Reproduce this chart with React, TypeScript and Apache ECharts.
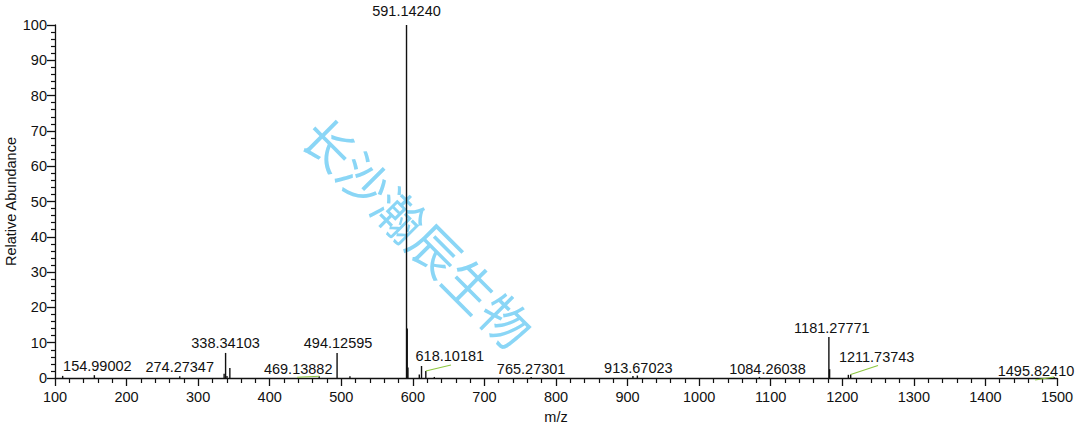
import React, { useEffect, useRef } from "react";
import * as echarts from "echarts";

// ---- Data ----
const peakMz = [
  110.7, 154.99002, 274.27347, 336.3, 338.34103, 340.3, 344.3, 469.13882, 494.12595, 512.1,
  591.1424, 592.146, 593.14, 609.0, 612.1, 618.10181, 630.0, 765.27301, 907.5, 913.67023,
  1084.26038, 1181.27771, 1182.28, 1208.5, 1211.73743, 1495.8241,
];
const peakIntensity = [
  0.6, 0.8, 0.5, 1.2, 7.1, 0.6, 2.8, 0.5, 7.1, 0.5,
  100, 14, 3, 1.0, 3.4, 2.0, 0.3, 0.3, 0.6, 0.7,
  0.3, 11.6, 2.5, 0.9, 1.0, 0.3,
];

const labeledMz = [
  154.99002, 274.27347, 338.34103, 469.13882, 494.12595, 591.1424, 618.10181,
  765.27301, 913.67023, 1084.26038, 1181.27771, 1211.73743, 1495.8241,
];
const labeledIntensity = [0.8, 0.5, 7.1, 0.5, 7.1, 100, 2.0, 0.3, 0.7, 0.3, 11.6, 1.0, 0.3];

const xTickMin = 100;
const xTickMax = 1500;
const xTickStep = 100;
const yTickMin = 0;
const yTickMax = 100;
const yTickStep = 10;

const xAxisTitle = "m/z";
const yAxisTitle = "Relative Abundance";
const watermarkText = "长沙瀚辰生物";

// ---- Layout config (label nudges in px: [dx, dy, leaderLine]) ----
const labelNudges: Array<[number, number, boolean]> = [
  [3, 0, false],
  [0, 0, false],
  [0, 0, false],
  [-21, 2, true],
  [1, 0, false],
  [0, -5, false],
  [24, -5, true],
  [0, 2, false],
  [1, 2, false],
  [8, 2, false],
  [3, 0, false],
  [26, -8, true],
  [-18, 4, true],
];

const FONT = "'Liberation Sans', Arial, Helvetica, sans-serif";
const INK = "#111";
const FS = 14.5;

export default function App() {
  const ref = useRef<HTMLDivElement | null>(null);

  useEffect(() => {
    if (!ref.current) return;
    const chart = echarts.init(ref.current, undefined, { renderer: "svg" });

    const peakData = peakMz.map((m, i) => [m, peakIntensity[i]]);
    const labelData = labeledMz.map((m, i) => [m, labeledIntensity[i]]);

    const option: any = {
      animation: false,
      backgroundColor: "#ffffff",
      grid: {
        left: 55,
        right: 24,
        top: 25,
        bottom: 50,
        containLabel: false,
        outerBoundsMode: "none",
      },
      xAxis: {
        type: "value",
        min: xTickMin,
        max: xTickMax,
        interval: xTickStep,
        axisLine: { show: true, onZero: false, lineStyle: { color: INK, width: 1.3 } },
        axisTick: { show: true, length: 8, lineStyle: { color: INK, width: 1.3 } },
        minorTick: { show: true, splitNumber: 5, length: 5, lineStyle: { color: INK, width: 1.2 } },
        splitLine: { show: false },
        minorSplitLine: { show: false },
        axisLabel: {
          fontSize: FS,
          color: INK,
          margin: 11,
          fontFamily: FONT,
          formatter: (v: number) => String(v),
        },
        name: xAxisTitle,
        nameLocation: "middle",
        nameGap: 31,
        nameMoveOverlap: false,
        nameTextStyle: { fontSize: FS, color: INK, fontFamily: FONT },
      },
      yAxis: {
        type: "value",
        min: yTickMin,
        max: yTickMax,
        interval: yTickStep,
        axisLine: { show: true, onZero: false, lineStyle: { color: INK, width: 1.3 } },
        axisTick: { show: true, length: 8, lineStyle: { color: INK, width: 1.3 } },
        minorTick: { show: true, splitNumber: 5, length: 4, lineStyle: { color: INK, width: 1.2 } },
        splitLine: { show: false },
        minorSplitLine: { show: false },
        axisLabel: {
          fontSize: FS,
          color: INK,
          margin: 8,
          fontFamily: FONT,
          formatter: (v: number) => String(v),
        },
        name: yAxisTitle,
        nameLocation: "middle",
        nameGap: 37,
        nameMoveOverlap: false,
        nameTextStyle: { fontSize: FS, color: INK, fontFamily: FONT },
      },
      graphic: [
        {
          type: "text",
          x: 419,
          y: 231,
          rotation: -Math.PI / 4,
          z: 0,
          silent: true,
          style: {
            text: watermarkText,
            fontSize: 50,
            fontFamily: "'Noto Sans CJK SC'",
            fontWeight: 400,
            fill: "#8ad6f6",
            align: "center",
            verticalAlign: "middle",
            textAlign: "center",
            textVerticalAlign: "middle",
          },
        },
      ],
      series: [
        {
          type: "custom",
          name: "peaks",
          z: 3,
          clip: false,
          data: peakData,
          renderItem: (params: any, api: any) => {
            const top = api.coord([api.value(0), api.value(1)]);
            const base = api.coord([api.value(0), 0]);
            return {
              type: "line",
              shape: { x1: top[0], y1: top[1], x2: base[0], y2: base[1] },
              style: { stroke: INK, lineWidth: 1.4 },
            };
          },
        },
        {
          type: "custom",
          name: "labels",
          z: 4,
          clip: false,
          data: labelData,
          renderItem: (params: any, api: any) => {
            const idx = params.dataIndex;
            const mz = api.value(0);
            const top = api.coord([mz, api.value(1)]);
            const nudge = labelNudges[idx] || [0, 0, false];
            const lx = top[0] + nudge[0];
            const ly = top[1] - 2 + nudge[1];
            const children: any[] = [
              {
                type: "text",
                style: {
                  text: Number(labeledMz[idx]).toFixed(5),
                  x: lx,
                  y: ly,
                  fontSize: FS,
                  fontFamily: FONT,
                  fill: INK,
                  align: "center",
                  verticalAlign: "bottom",
                  textAlign: "center",
                  textVerticalAlign: "bottom",
                },
              },
            ];
            if (nudge[2]) {
              children.unshift({
                type: "line",
                shape: { x1: lx + nudge[0] * 0.05, y1: ly + 1, x2: top[0], y2: top[1] },
                style: { stroke: "#8cc63f", lineWidth: 1.1 },
              });
            }
            return { type: "group", children };
          },
        },
      ],
    };

    chart.setOption(option);
    return () => {
      chart.dispose();
    };
  }, []);

  return (
    <div
      ref={ref}
      style={{ position: "fixed", left: 0, top: 0, width: 1081, height: 428, background: "#fff" }}
    />
  );
}
